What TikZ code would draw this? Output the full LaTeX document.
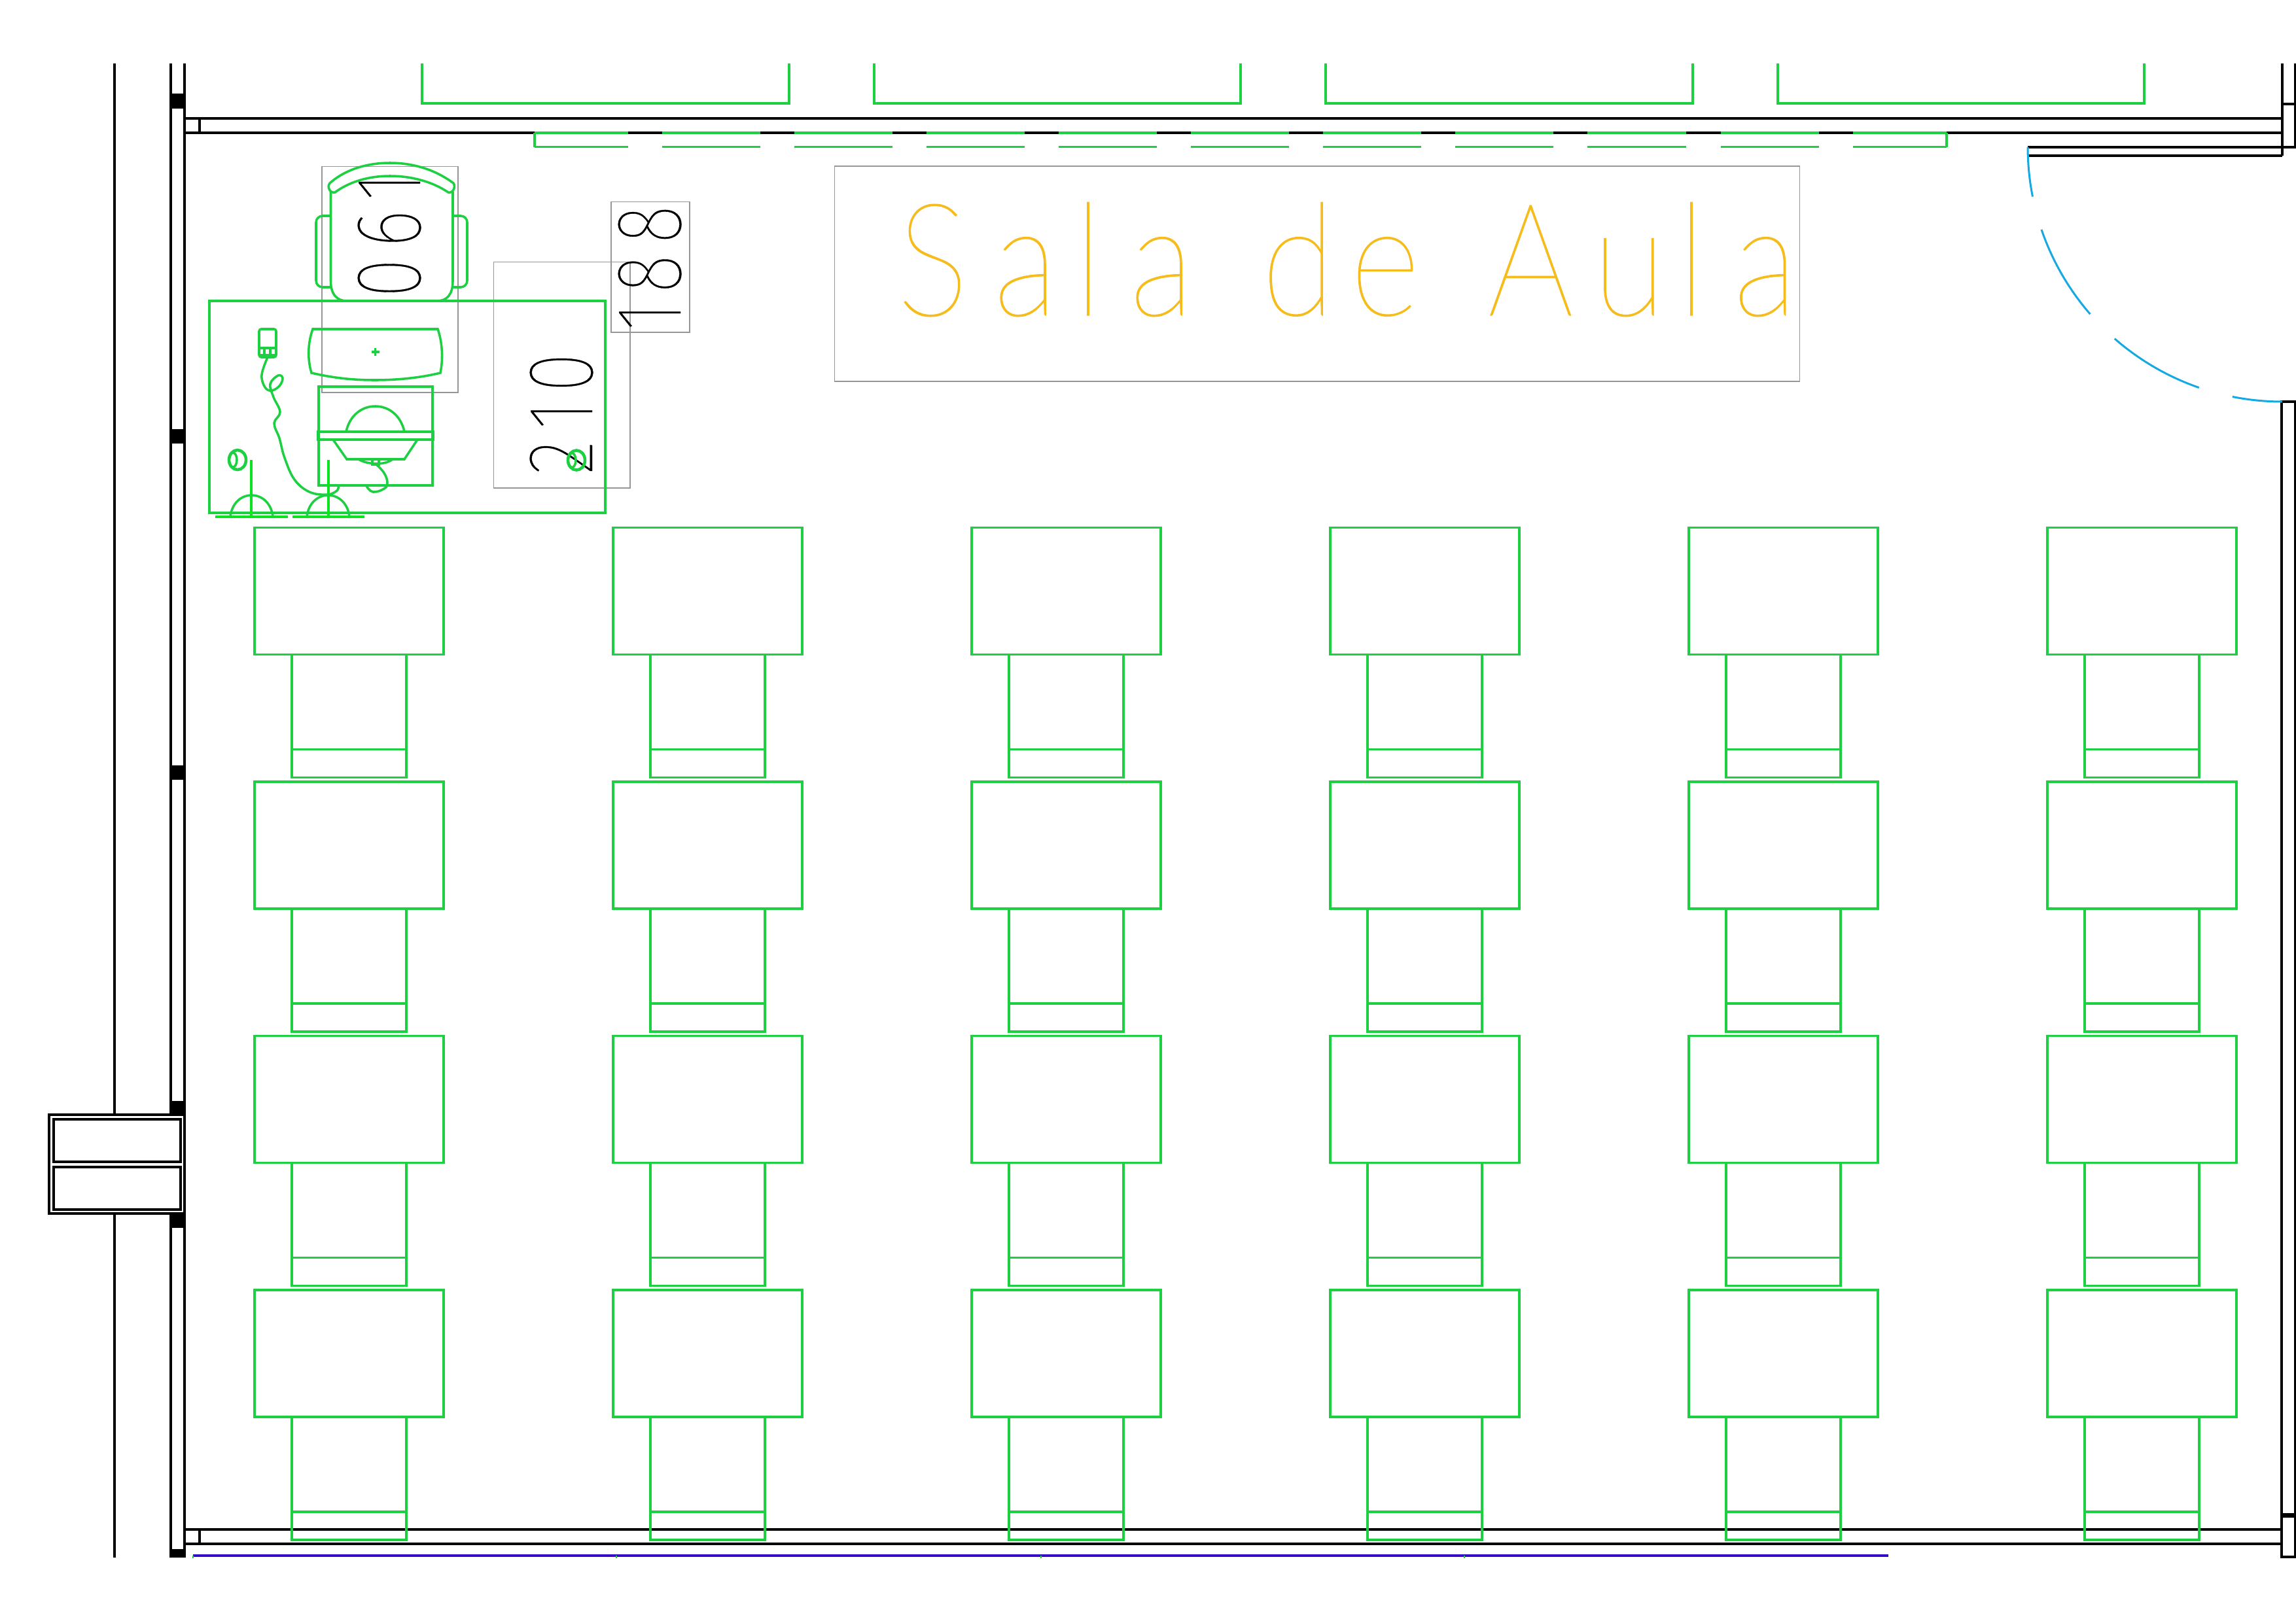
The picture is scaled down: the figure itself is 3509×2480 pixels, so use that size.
\documentclass[tikz,border=0pt]{standalone}
\usepackage{fontspec}
\newfontfamily\titlefont[FakeStretch=0.86,FakeBold=0.5]{Lato Hairline}
\IfFontExistsTF{Fira Sans Thin}{\newfontfamily\digitfont[FakeStretch=0.78,FakeBold=0.25]{Fira Sans Thin}}{\newfontfamily\digitfont[FakeStretch=0.78,FakeBold=0.6]{Poppins Thin}}
\newdimen\pxu \pxu=0.24pt
\newcommand\cellbox[2]{\makebox[#1\pxu][c]{#2}}
\newcommand\gapbox[1]{\kern#1\pxu}
\definecolor{cad}{RGB}{28,208,66}
\definecolor{lamp}{RGB}{10,228,30}
\definecolor{door}{RGB}{20,170,225}
\definecolor{dim}{RGB}{50,10,200}
\definecolor{titlec}{RGB}{245,188,28}
\definecolor{frame}{RGB}{150,150,150}
\tikzset{
  wall/.style={draw=black,line width=0.78pt},
  cadline/.style={draw=cad,line width=0.85pt},
  lampline/.style={draw=lamp,line width=0.85pt},
  greybox/.style={draw=frame,line width=0.3pt},
  doorline/.style={draw=door,line width=0.72pt},
  digits/.style={rotate=90,anchor=base west,inner sep=0pt,outer sep=0pt,text=black,font=\digitfont\fontsize{34}{35}\selectfont},
  pillar/.style={fill=black,draw=none},
}
\begin{document}
\begin{tikzpicture}[x=0.24pt,y=-0.24pt,line join=miter]
\useasboundingbox (0,0) rectangle (3509,2480);
% walls
\draw[wall] (175,97) -- (175,1704) (175,1855) -- (175,2381);
\draw[wall] (261,97) -- (261,1704) (261,1855) -- (261,2381);
\draw[wall] (282,97) -- (282,2381);
\foreach \a/\b in {143/166,656/678,1170/1192,1683/1704,1855/1877,2368/2381}
  \fill[pillar] (261,\a) rectangle (283,\b);
\draw[wall] (282,181) -- (3488,181) (282,203) -- (3488,203) (305,181) -- (305,203);
\draw[wall] (282,2338) -- (3487,2338) (282,2360) -- (3487,2360) (305,2338) -- (305,2360);
\draw[wall] (3488,97) -- (3488,238) (3508,97) -- (3508,225) (3488,159) -- (3509,159) (3488,225) -- (3509,225);
\draw[wall] (3099,225) -- (3488,225) (3099,238) -- (3488,238);
\draw[wall] (3509,614) -- (3487,614) -- (3487,2380) -- (3509,2380) (3508,614) -- (3508,2380);
\draw[wall] (3487,2315) -- (3509,2315) (3487,2318) -- (3509,2318);
% window on left
\draw[wall] (75,1704) rectangle (282,1855);
\draw[wall] (82,1711) rectangle (276,1776) (82,1784) rectangle (276,1849);
% window frames on top
\foreach \a/\b in {645/1206,1336/1896,2026/2587,2717/3277}
  \draw[cadline] (\a,97) -- (\a,158) -- (\b,158) -- (\b,97);
% blinds
\foreach \a/\b in {817/960,1012/1162,1214/1364,1416/1566,1618/1768,1820/1970,2022/2172,2224/2374,2426/2577,2630/2780,2832/2975}
  \draw[cadline] (\a,203) -- (\b,203) (\a,224.5) -- (\b,224.5);
\draw[cadline] (817,203) -- (817,224.5) (2975,203) -- (2975,224.5);
% door swing
\foreach \s/\e in {0/11.2,18.9/41,48.8/70.9,78.7/90}
  \draw[doorline,domain=\s:\e,samples=24,variable=\t] plot ({3488-389*cos(\t)},{225+389*sin(\t)});
% desks
\foreach \dx in {389,937,1485,2033,2581,3129}
  \foreach \dy in {806.5,1195,1583.5,1972}{
    \draw[cadline] (\dx,\dy) rectangle ++(289,194);
    \draw[cadline] ({\dx+57},{\dy+194}) -- ({\dx+57},{\dy+382}) -- ({\dx+232},{\dy+382}) -- ({\dx+232},{\dy+194});
    \draw[cadline] ({\dx+57},{\dy+339}) -- ({\dx+232},{\dy+339});
  }
% dimension line
\draw[draw=dim,line width=0.85pt] (295,2378) -- (2886,2378);
\foreach \a in {295,942,1591,2238}
  \draw[cadline,line width=0.4pt] (\a,2378) -- (\a,2382);
% grey text frames
\draw[greybox] (492,254.5) rectangle (700,600);
\draw[greybox] (754.5,400.5) rectangle (963,746);
\draw[greybox] (934,308.5) rectangle (1054,508);
\draw[greybox] (1275.5,254) rectangle (2750.5,583);
% teacher's desk
\draw[cadline] (320,460) rectangle (925,784);
% chair
\draw[cadline] (505.5,293) -- (505.5,430) .. controls (505.5,450) and (515,460) .. (530,460) -- (668,460) .. controls (683,460) and (692,450) .. (692,430) -- (692,293);
\draw[cadline,rounded corners=2.4pt] (505.5,330) -- (483,330) -- (483,439) -- (505.5,439);
\draw[cadline,rounded corners=2.4pt] (692,330) -- (714,330) -- (714,439) -- (692,439);
\draw[cadline] (504,280) .. controls (530,257) and (565,249) .. (596,249) .. controls (627,249) and (662,257) .. (693,280) .. controls (697,286) and (692,296) .. (685,294) .. controls (660,277) and (627,269) .. (596,269) .. controls (565,269) and (535,277) .. (512,294) .. controls (505,296) and (499,286) .. (504,280) -- cycle;
% monitor
\draw[cadline] (478,503) -- (669,503) .. controls (675,520) and (678,545) .. (673,570) .. controls (640,578) and (605,581) .. (573,581) .. controls (540,581) and (510,578) .. (476,570) .. controls (470,550) and (470,525) .. (478,503) -- cycle;
\draw[cadline] (567.5,538) -- (579.5,538) (573.5,532) -- (573.5,544);
% printer
\draw[cadline] (487,591) rectangle (661,742);
\draw[cadline] (529,660) .. controls (534,636) and (552,621) .. (573.5,621) .. controls (595,621) and (613,636) .. (618,660);
\draw[cadline] (486,660) rectangle (662,672);
\draw[cadline] (509,672) -- (530,702) -- (618,702) -- (638,672);
\draw[cadline] (548,702) .. controls (560,710) and (588,712) .. (600,702);
\draw[cadline] (569,702) rectangle (579,710);
\draw[cadline] plot[smooth,tension=.7] coordinates {(575,710) (587,723) (592,738) (587,747) (570,752) (560,743)};
% phone
\draw[cadline,rounded corners=0.8pt] (396,503) rectangle (422,546);
\draw[cadline] (396,532) -- (422,532) (404,532) -- (404,545) (413,532) -- (413,545) (396,543) -- (422,543);
\draw[cadline] plot[smooth,tension=.65] coordinates {(409,546) (400,573) (405,592) (415,597) (427,590) (432,578) (425,574) (413,587) (418,607) (428,630) (419,647) (427,670) (435,700) (450,733) (473,752) (500,756) (515,750) (517,743)};
% lamps
\draw[lampline] (329,790) -- (440,790) (447,790) -- (557,790);
\draw[lampline] (384,703) -- (384,790) (502,703) -- (502,790);
\draw[cadline] (352,790) .. controls (354,770) and (368,757) .. (384.5,757) .. controls (401,757) and (415,770) .. (417,790);
\draw[cadline] (469,790) .. controls (471,770) and (485,757) .. (501.5,757) .. controls (518,757) and (532,770) .. (534,790);
% title and numbers
\node[anchor=base west,inner sep=0pt,outer sep=0pt,text=titlec,font=\titlefont\fontsize{57.6}{60}\selectfont] (title) at (1340,482)
  {\cellbox{171}{S}\cellbox{113}{a}\cellbox{78}{l}\cellbox{147}{a}\gapbox{24} \cellbox{105}{d}\cellbox{160}{e}\gapbox{12} \cellbox{143}{A}\cellbox{158}{u}\cellbox{32}{l}\cellbox{194}{a}};
\node[digits] (n061) at (642,463) {\cellbox{76}{0}\cellbox{75}{6}\cellbox{54}{1}};
\node[digits] (n188) at (1040,520) {\cellbox{73}{1}\cellbox{57}{8}\cellbox{94}{8}};
\node[digits] (n210) at (905,737) {\cellbox{75}{2}\cellbox{55}{1}\cellbox{75}{0}};
% balls
\foreach \bx/\by in {363/703,881/703.5}{
  \draw[cadline,line width=1.1pt] (\bx,\by) ellipse [x radius=13,y radius=15];
  \draw[cadline] ({\bx-7},\by) ellipse [x radius=6,y radius=11];
}
\end{tikzpicture}
\end{document}
